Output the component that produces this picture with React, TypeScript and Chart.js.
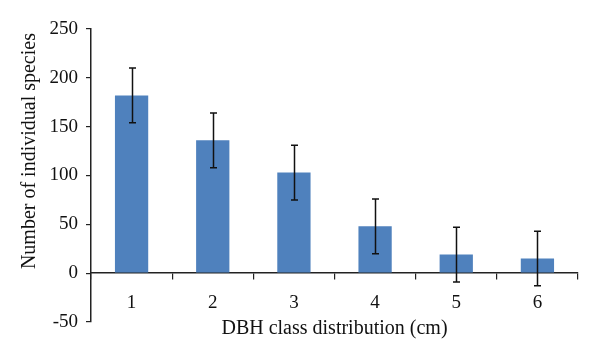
import React, { useEffect, useRef } from "react";
import { Chart, registerables } from "chart.js";

Chart.register(...registerables);

const categories = ["1", "2", "3", "4", "5", "6"];
const values = [182, 136, 103, 48, 19, 15];
const errors = [28, 28, 28, 28, 28, 28];
const yTicks = [-50, 0, 50, 100, 150, 200, 250];
const yTitle = "Number of individual species";
const xTitle = "DBH class distribution (cm)";

const FONT = "'Liberation Serif', 'Times New Roman', serif";

const errorBarPlugin = {
  id: "errorBars",
  afterDatasetsDraw(chart: any) {
    const ctx = chart.ctx;
    const meta = chart.getDatasetMeta(0);
    const yScale = chart.scales.y;
    ctx.save();
    ctx.strokeStyle = "#111";
    ctx.lineWidth = 1.5;
    meta.data.forEach((bar: any, i: number) => {
      const x = Math.round(bar.x) + 0.5;
      const top = yScale.getPixelForValue(values[i] + errors[i]);
      const bot = yScale.getPixelForValue(values[i] - errors[i]);
      const cap = 3.5;
      ctx.beginPath();
      ctx.moveTo(x, top);
      ctx.lineTo(x, bot);
      ctx.moveTo(x - cap, top);
      ctx.lineTo(x + cap, top);
      ctx.moveTo(x - cap, bot);
      ctx.lineTo(x + cap, bot);
      ctx.stroke();
    });
    ctx.restore();
  },
};

// y-axis title centred on the 0–250 span, as in the reference
const yTitlePlugin = {
  id: "yTitle",
  afterDraw(chart: any) {
    const ctx = chart.ctx;
    const yScale = chart.scales.y;
    const cy = (yScale.getPixelForValue(0) + yScale.getPixelForValue(250)) / 2;
    ctx.save();
    ctx.translate(30, cy);
    ctx.rotate(-Math.PI / 2);
    ctx.font = `20px ${FONT}`;
    ctx.fillStyle = "#111";
    ctx.textAlign = "center";
    ctx.textBaseline = "middle";
    ctx.fillText(yTitle, 0, 0);
    ctx.restore();
  },
};

export default function App() {
  const ref = useRef<HTMLCanvasElement>(null);
  useEffect(() => {
    if (!ref.current) return;
    const chart = new Chart(ref.current, {
      type: "bar",
      data: {
        labels: categories,
        datasets: [
          {
            data: values,
            backgroundColor: "#4F81BD",
            borderWidth: 0,
            barPercentage: 0.41,
            categoryPercentage: 1,
          },
        ],
      },
      options: {
        animation: false,
        responsive: false,
        events: [],
        layout: { padding: { top: 29, right: 22, bottom: 37, left: 0 } },
        plugins: { legend: { display: false }, tooltip: { enabled: false } },
        scales: {
          x: {
            position: { y: 0 } as any,
            grid: {
              display: true,
              drawOnChartArea: false,
              drawTicks: true,
              tickLength: 6,
              color: "#222",
              lineWidth: 1.2,
              offset: true,
            },
            border: { display: true, color: "#222", width: 1.5 },
            ticks: {
              color: "#111",
              font: { family: FONT, size: 19 },
              padding: 12,
            },
            title: {
              display: true,
              text: xTitle,
              color: "#111",
              font: { family: FONT, size: 20 },
              padding: { top: -9, bottom: 0 },
            },
          },
          y: {
            min: -50,
            max: 250,
            afterBuildTicks: (scale: any) => {
              scale.ticks = yTicks.map((v) => ({ value: v }));
            },
            afterFit: (scale: any) => {
              scale.width = 91;
            },
            grid: {
              display: true,
              drawOnChartArea: false,
              drawTicks: true,
              tickLength: 5,
              color: "#222",
              lineWidth: 1.2,
            },
            border: { display: true, color: "#222", width: 1.5 },
            ticks: {
              color: "#111",
              font: { family: FONT, size: 19 },
              padding: 8,
            },
            title: { display: false },
          },
        },
      },
      plugins: [errorBarPlugin, yTitlePlugin],
    });
    return () => chart.destroy();
  }, []);
  return (
    <div style={{ position: "absolute", left: 0, top: 0, width: 600, height: 359, background: "#fff" }}>
      <canvas ref={ref} width={600} height={359} />
    </div>
  );
}
